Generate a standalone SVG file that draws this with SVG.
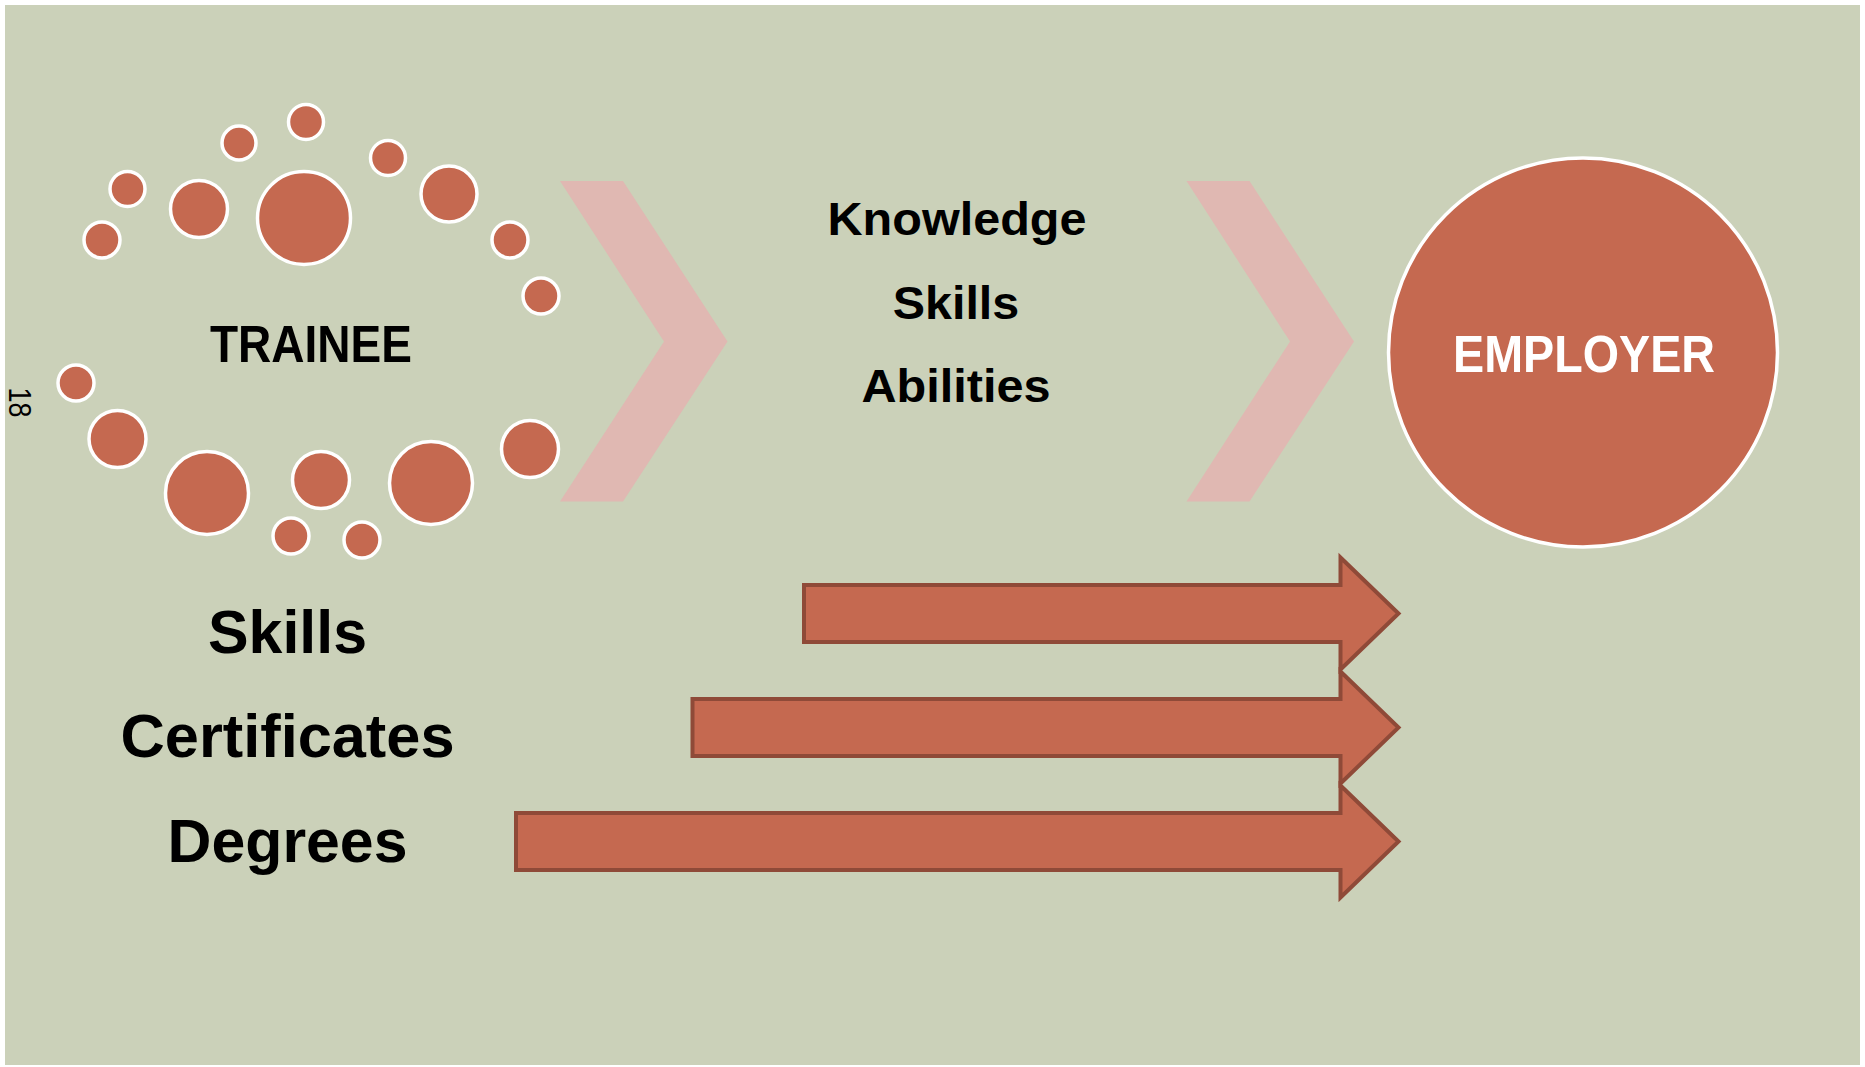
<svg xmlns="http://www.w3.org/2000/svg" width="1865" height="1067" viewBox="0 0 1865 1067">
<style>
.dot{fill:#C56950;stroke:#FFFFFF;stroke-width:3.5}
.chev{fill:#E0B8B2}
.arrow{fill:#C56950;stroke:#8F4A38;stroke-width:4;stroke-linejoin:miter}
.t{font-family:"Liberation Sans",Arial,sans-serif;font-weight:bold;fill:#000;text-anchor:middle}
</style>
<rect x="0" y="0" width="1865" height="1067" fill="#FFFFFF"/>
<rect x="5" y="5" width="1855" height="1060" fill="#CBD1B9"/>

<g id="trainee">
  <circle class="dot" cx="306" cy="122" r="17.5"/>
  <circle class="dot" cx="239" cy="143" r="17"/>
  <circle class="dot" cx="127.5" cy="189" r="17.5"/>
  <circle class="dot" cx="102" cy="240" r="18"/>
  <circle class="dot" cx="199" cy="209" r="28.5"/>
  <circle class="dot" cx="304" cy="218" r="46.5"/>
  <circle class="dot" cx="388" cy="158" r="17.5"/>
  <circle class="dot" cx="449" cy="194" r="28"/>
  <circle class="dot" cx="510" cy="240" r="18"/>
  <circle class="dot" cx="541" cy="296" r="18"/>
  <circle class="dot" cx="76" cy="383" r="18"/>
  <circle class="dot" cx="117.5" cy="439" r="28.5"/>
  <circle class="dot" cx="207" cy="493" r="41.5"/>
  <circle class="dot" cx="321" cy="480" r="28.5"/>
  <circle class="dot" cx="291" cy="536" r="18"/>
  <circle class="dot" cx="362" cy="540" r="18"/>
  <circle class="dot" cx="431" cy="483" r="41.5"/>
  <circle class="dot" cx="530" cy="449" r="28.5"/>
  <text class="t" x="311" y="362.3" font-size="51" textLength="202" lengthAdjust="spacingAndGlyphs">TRAINEE</text>
</g>

<g id="chevron1">
  <polygon class="chev" points="560,181 623,181 727.5,341.5 623,501.5 560,501.5 664,341.5"/>
</g>

<g id="ksa">
  <text class="t" x="957" y="235" font-size="47" textLength="259" lengthAdjust="spacingAndGlyphs">Knowledge</text>
  <text class="t" x="956" y="319.3" font-size="47" textLength="126.5" lengthAdjust="spacingAndGlyphs">Skills</text>
  <text class="t" x="956" y="401.7" font-size="47" textLength="189" lengthAdjust="spacingAndGlyphs">Abilities</text>
</g>

<g id="chevron2">
  <polygon class="chev" points="1186.5,181 1249.5,181 1354,341.5 1249.5,501.5 1186.5,501.5 1290,341.5"/>
</g>

<g id="employer">
  <circle cx="1583" cy="352.5" r="194.5" fill="#C56950" stroke="#FFFFFF" stroke-width="3.5"/>
  <text x="1584" y="372.3" font-family="Liberation Sans, Arial, sans-serif" font-weight="bold" font-size="51" fill="#FFFFFF" text-anchor="middle" textLength="262" lengthAdjust="spacingAndGlyphs">EMPLOYER</text>
</g>

<g id="credentials">
  <text class="t" x="287.5" y="653.3" font-size="62" textLength="159" lengthAdjust="spacingAndGlyphs">Skills</text>
  <text class="t" x="287.5" y="757.3" font-size="62" textLength="334" lengthAdjust="spacingAndGlyphs">Certificates</text>
  <text class="t" x="287.5" y="861.7" font-size="62" textLength="240" lengthAdjust="spacingAndGlyphs">Degrees</text>
</g>

<g id="slide-number">
  <text transform="translate(9,402.5) rotate(90)" font-family="Liberation Sans, Arial, sans-serif" font-size="32" fill="#000" text-anchor="middle" textLength="30" lengthAdjust="spacingAndGlyphs">18</text>
</g>

<g id="connectors">
  <polygon class="arrow" points="804,585 1340.5,585 1340.5,557.5 1398.5,613.5 1340.5,669.5 1340.5,642 804,642"/>
  <polygon class="arrow" points="692.5,699 1340.5,699 1340.5,671.5 1398.5,727.5 1340.5,783.5 1340.5,756 692.5,756"/>
  <polygon class="arrow" points="516,813 1340.5,813 1340.5,785.5 1398.5,841.5 1340.5,897.5 1340.5,870 516,870"/>
</g>
</svg>
